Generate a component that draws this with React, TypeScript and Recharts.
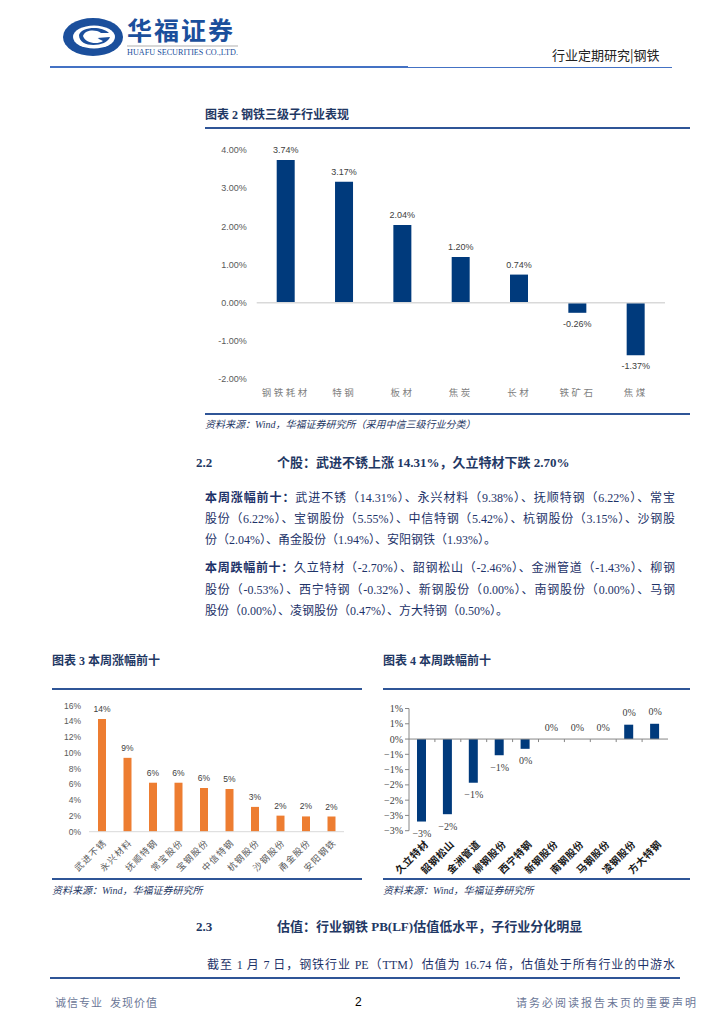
import React from 'react';
import { BarChart, ComposedChart, Bar, Line as RLine, XAxis, YAxis, ReferenceLine, LabelList } from 'recharts';

// ---------- data ----------
const subIndustries = ['钢铁耗材', '特钢', '板材', '焦炭', '长材', '铁矿石', '焦煤'];
const subIndustryReturns = [3.74, 3.17, 2.04, 1.2, 0.74, -0.26, -1.37];
const subIndustryTicks = [-2, -1, 0, 1, 2, 3, 4];

const gainerNames = ['武进不锈', '永兴材料', '抚顺特钢', '常宝股份', '宝钢股份', '中信特钢', '杭钢股份', '沙钢股份', '甬金股份', '安阳钢铁'];
const gainerValues = [14.31, 9.38, 6.22, 6.22, 5.55, 5.42, 3.15, 2.04, 1.94, 1.93];
const gainerTicks = [0, 2, 4, 6, 8, 10, 12, 14, 16];

const loserNames = ['久立特材', '韶钢松山', '金洲管道', '柳钢股份', '西宁特钢', '新钢股份', '南钢股份', '马钢股份', '凌钢股份', '方大特钢'];
const loserValues = [-2.7, -2.46, -1.43, -0.53, -0.32, 0, 0, 0, 0.47, 0.5];
const loserTicks = [-3, -2.5, -2, -1.5, -1, -0.5, 0, 0.5, 1];

const chart2Data = subIndustries.map((name, i) => ({ name, value: subIndustryReturns[i] }));
const chart3Data = gainerNames.map((name, i) => ({ name, value: gainerValues[i] }));
const chart4Data = loserNames.map((name, i) => ({ name, value: loserValues[i] }));

// ---------- styles ----------
const SERIF = "'Liberation Serif', 'Noto Sans CJK SC', serif";
const SANS = "'Liberation Sans', 'Noto Sans CJK SC', sans-serif";
const CJK = "'Noto Sans CJK SC', sans-serif";
const NAVY = '#1F3864';
const TEXT = '#1d3268';
const BAR_BLUE = '#003A7C';
const ORANGE = '#ED7D31';

const abs = (left: number, top: number, extra: React.CSSProperties = {}): React.CSSProperties => ({
  position: 'absolute',
  left,
  top,
  ...extra,
});

const excelRound = (v: number) => Math.sign(v) * Math.round(Math.abs(v));
const halfDownRound = (v: number) => Math.sign(v) * Math.round(Math.abs(v) - 0.001);
const fmtSigned = (n: number) => (n < 0 ? '−' + Math.abs(n) : String(Math.abs(n)));

// ---------- chart pieces ----------
const Chart2CatTick = (p: any) => (
  <text x={p.x} y={p.y + 12.5} textAnchor="middle" dominantBaseline="central" fontSize={9.5} fill="#7f7f7f" letterSpacing={2.5} fontFamily={CJK}>
    {p.payload.value}
  </text>
);

const makeRotTick = (dx: number, dy: number, color: string, size: number, spacing: number, weight: number) => (p: any) => (
  <g transform={`translate(${p.x + dx},${p.y + dy})`}>
    <text textAnchor="end" dominantBaseline="central" transform="rotate(-45)" fontSize={size} fill={color} letterSpacing={spacing} fontFamily={CJK} fontWeight={weight}>
      {p.payload.value}
    </text>
  </g>
);

const makeValueLabel = (fmt: (v: number) => string, fontFamily: string, size: number, up: number, down: number) => (p: any) => {
  const { x, y, value } = p;
  const width = p.width || 0;
  const height = p.height || 0;
  const top = Math.min(y, y + height);
  const bottom = Math.max(y, y + height);
  const cx = x + width / 2;
  const ly = value >= 0 ? top - up : bottom + down;
  return (
    <text x={cx} y={ly} textAnchor="middle" dominantBaseline="central" fontSize={size} fill="#404040" fontFamily={fontFamily}>
      {fmt(value)}
    </text>
  );
};

const ZeroAxisWithTicks = (p: any) => {
  const { x1, x2, y1 } = p;
  if (x1 == null) return null;
  const n = chart4Data.length;
  const step = (x2 - x1) / n;
  const ticks = [];
  for (let i = 1; i < n; i++) {
    ticks.push(<line key={i} x1={x1 + i * step} x2={x1 + i * step} y1={y1} y2={y1 + 3} stroke="#868686" strokeWidth={1} />);
  }
  return (
    <g>
      <line x1={x1} x2={x2} y1={y1} y2={y1} stroke="#868686" strokeWidth={1} />
      {ticks}
    </g>
  );
};

const Chart2 = () => (
  <BarChart width={500} height={280} data={chart2Data} margin={{ top: 15, right: 25, left: 0, bottom: 0 }}>
    <XAxis dataKey="name" axisLine={false} tickLine={false} tickSize={0} tickMargin={0} height={35.7} interval={0} tick={<Chart2CatTick />} />
    <YAxis
      width={66.7}
      domain={[-2, 4]}
      ticks={subIndustryTicks}
      interval={0}
      axisLine={false}
      tickLine={false}
      tickSize={0}
      tickMargin={10}
      tickFormatter={(v: number) => v.toFixed(2) + '%'}
      tick={{ fontSize: 9, fill: '#595959', fontFamily: SANS }}
    />
    <ReferenceLine y={0} stroke="#d9d9d9" strokeWidth={1.5} />
    <Bar dataKey="value" fill={BAR_BLUE} barSize={18} isAnimationActive={false}>
      <LabelList dataKey="value" content={makeValueLabel((v) => v.toFixed(2) + '%', SANS, 9, 10, 11)} />
    </Bar>
  </BarChart>
);

const Chart3 = () => (
  <BarChart width={320} height={190} data={chart3Data} margin={{ top: 10.7, right: 16, left: 0, bottom: 0 }}>
    <XAxis
      dataKey="name"
      axisLine={{ stroke: '#d9d9d9', strokeWidth: 1 }}
      tickLine={false}
      tickSize={0}
      tickMargin={0}
      height={53.3}
      interval={0}
      tick={makeRotTick(3, 9, '#595959', 9, 1.2, 400)}
    />
    <YAxis
      width={49}
      domain={[0, 16]}
      ticks={gainerTicks}
      interval={0}
      axisLine={false}
      tickLine={false}
      tickSize={0}
      tickMargin={8}
      tickFormatter={(v: number) => v + '%'}
      tick={{ fontSize: 8.5, fill: '#595959', fontFamily: SANS }}
    />
    <Bar dataKey="value" fill={ORANGE} barSize={8} isAnimationActive={false}>
      <LabelList dataKey="value" content={makeValueLabel((v) => Math.round(v) + '%', SANS, 8.5, 10, 10)} />
    </Bar>
  </BarChart>
);

const Chart4 = () => (
  <ComposedChart width={320} height={190} data={chart4Data} margin={{ top: 13.5, right: 17, left: 0, bottom: 0 }}>
    <XAxis
      dataKey="name"
      axisLine={false}
      tickLine={false}
      tickSize={0}
      tickMargin={0}
      height={54.3}
      interval={0}
      tick={makeRotTick(4, 11, '#1a1a1a', 10, 0.5, 700)}
    />
    <YAxis
      width={44}
      domain={[-3, 1]}
      ticks={loserTicks}
      interval={0}
      axisLine={{ stroke: '#868686' }}
      tickLine={{ stroke: '#868686' }}
      tickSize={4}
      tickMargin={2}
      tickFormatter={(v: number) => fmtSigned(excelRound(v)) + '%'}
      tick={{ fontSize: 10, fill: '#404040', fontFamily: SERIF }}
    />
    <ReferenceLine y={0} shape={<ZeroAxisWithTicks />} />
    <Bar dataKey="value" fill={BAR_BLUE} barSize={9} isAnimationActive={false} />
    <RLine dataKey="value" stroke="none" dot={false} activeDot={false} isAnimationActive={false}>
      <LabelList
        dataKey="value"
        content={makeValueLabel((v) => {
          const r = halfDownRound(v);
          return fmtSigned(r === 0 ? 0 : r) + '%';
        }, SERIF, 10, 12, 12)}
      />
    </RLine>
  </ComposedChart>
);

// ---------- page pieces ----------
const Logo = () => (
  <svg width={190} height={56} style={abs(56, 10)}>
    <g transform="translate(37,27)">
      <ellipse cx={0} cy={0} rx={30} ry={19} fill="#1B4F9C" />
      <ellipse cx={1} cy={0} rx={21} ry={11.5} fill="#fff" />
      <path d="M -14 -2 C -12 -10, 8 -12, 16 -4 L 8 -4 C 2 -8, -8 -7, -10 -1 C -8 6, 4 8, 10 4 L 4 1 L 17 0 C 14 10, -14 12, -14 -2 Z" fill="#1B4F9C" />
      <path d="M -1 -3 L 6 1 L -1 5 L -6 1 Z" fill="#fff" />
    </g>
    <text x={71} y={30} fontSize={25} fontWeight={700} fill="#1B4F9C" fontFamily={CJK} letterSpacing={2}>华福证券</text>
    <line x1={71} x2={182} y1={36} y2={36} stroke="#b0b0b0" strokeWidth={1.2} />
    <text x={71} y={44.5} fontSize={8} fill="#1B4F9C" fontFamily={SERIF} textLength={111} lengthAdjust="spacingAndGlyphs">HUAFU SECURITIES CO.,LTD.</text>
  </svg>
);

const Line = ({ left, top, width, height, color }: { left: number; top: number; width: number; height: number; color: string }) => (
  <div style={abs(left, top, { width, height, background: color })} />
);

const TextLine = ({ top, children, justify = true, left = 205, width = 470 }: { top: number; children: React.ReactNode; justify?: boolean; left?: number; width?: number }) => (
  <div
    style={abs(left, top - 10, {
      width,
      height: 20,
      lineHeight: '20px',
      fontSize: 12,
      color: TEXT,
      fontFamily: SERIF,
      textAlign: justify ? 'justify' : 'left',
      textAlignLast: justify ? 'justify' : 'left',
      whiteSpace: 'normal',
    })}
  >
    {children}
  </div>
);

const Title = ({ left, top, children }: { left: number; top: number; children: React.ReactNode }) => (
  <div style={abs(left, top - 9, { fontSize: 12, lineHeight: '18px', fontWeight: 700, color: NAVY, fontFamily: SERIF, whiteSpace: 'nowrap' })}>{children}</div>
);

const Source = ({ left, top, children }: { left: number; top: number; children: React.ReactNode }) => (
  <div style={abs(left, top - 8, { fontSize: 10, lineHeight: '16px', fontStyle: 'italic', color: NAVY, fontFamily: SERIF, whiteSpace: 'nowrap' })}>{children}</div>
);

const Heading = ({ top, num, children }: { top: number; num: string; children: React.ReactNode }) => (
  <>
    <div style={abs(196, top - 10, { fontSize: 13, lineHeight: '20px', fontWeight: 700, color: NAVY, fontFamily: SERIF })}>{num}</div>
    <div style={abs(277, top - 10, { fontSize: 13, lineHeight: '20px', fontWeight: 700, color: NAVY, fontFamily: SERIF, whiteSpace: 'nowrap' })}>{children}</div>
  </>
);

const B = ({ children }: { children: React.ReactNode }) => <span style={{ fontWeight: 700 }}>{children}</span>;

export default function App() {
  return (
    <div style={{ position: 'absolute', left: 0, top: 0, width: 724, height: 1024, background: '#fff', overflow: 'hidden' }}>
      {/* header */}
      <Logo />
      <div style={abs(552, 46, { fontSize: 13, lineHeight: '18px', color: '#222', fontFamily: CJK, whiteSpace: 'nowrap' })}>行业定期研究|钢铁</div>
      <Line left={50} top={66} width={358} height={2.2} color="#4472C4" />
      <Line left={408} top={66.5} width={264} height={1.4} color="#4472C4" />

      {/* chart 2 */}
      <Title left={205} top={115}>图表 2 钢铁三级子行业表现</Title>
      <Line left={205} top={127} width={485} height={2} color="#2F5597" />
      <div style={abs(190, 135)}>
        <Chart2 />
      </div>
      <Line left={205} top={413} width={485} height={2} color="#2F5597" />
      <Source left={205} top={425}>资料来源：Wind，华福证券研究所（采用中信三级行业分类）</Source>

      {/* 2.2 */}
      <Heading top={463} num="2.2">个股：武进不锈上涨 14.31%，久立特材下跌 2.70%</Heading>
      <TextLine top={498}><B>本周涨幅前十：</B>武进不锈（14.31%）、永兴材料（9.38%）、抚顺特钢（6.22%）、常宝</TextLine>
      <TextLine top={519}>股份（6.22%）、宝钢股份（5.55%）、中信特钢（5.42%）、杭钢股份（3.15%）、沙钢股</TextLine>
      <TextLine top={540} justify={false}>份（2.04%）、甬金股份（1.94%）、安阳钢铁（1.93%）。</TextLine>
      <TextLine top={568}><B>本周跌幅前十：</B>久立特材（-2.70%）、韶钢松山（-2.46%）、金洲管道（-1.43%）、柳钢</TextLine>
      <TextLine top={589.5}>股份（-0.53%）、西宁特钢（-0.32%）、新钢股份（0.00%）、南钢股份（0.00%）、马钢</TextLine>
      <TextLine top={611} justify={false}>股份（0.00%）、凌钢股份（0.47%）、方大特钢（0.50%）。</TextLine>

      {/* chart 3 */}
      <Title left={52} top={661}>图表 3 本周涨幅前十</Title>
      <Line left={52} top={688} width={310} height={2} color="#2F5597" />
      <div style={abs(40, 695)}>
        <Chart3 />
      </div>
      <Line left={52} top={878} width={310} height={2} color="#2F5597" />
      <Source left={52} top={891}>资料来源：Wind，华福证券研究所</Source>

      {/* chart 4 */}
      <Title left={383} top={661}>图表 4 本周跌幅前十</Title>
      <Line left={383} top={688} width={307} height={2} color="#2F5597" />
      <div style={abs(365, 695)}>
        <Chart4 />
      </div>
      <Line left={383} top={878} width={307} height={2} color="#2F5597" />
      <Source left={383} top={891}>资料来源：Wind，华福证券研究所</Source>

      {/* 2.3 */}
      <Heading top={927} num="2.3">估值：行业钢铁 PB(LF)估值低水平，子行业分化明显</Heading>
      <TextLine top={965} left={207} width={468}>截至 1 月 7 日，钢铁行业 PE（TTM）估值为 16.74 倍，估值处于所有行业的中游水</TextLine>

      {/* footer */}
      <Line left={50} top={977} width={630} height={2} color="#2F5597" />
      <div style={abs(55, 994, { fontSize: 11, lineHeight: '16px', color: '#6b7797', fontFamily: CJK, letterSpacing: 1, whiteSpace: 'pre' })}>诚信专业  发现价值</div>
      <div style={abs(355, 994, { fontSize: 12, lineHeight: '16px', color: '#000', fontFamily: SANS })}>2</div>
      <div style={abs(516, 994, { fontSize: 11, lineHeight: '16px', color: '#6b7797', fontFamily: CJK, letterSpacing: 2, whiteSpace: 'nowrap' })}>请务必阅读报告末页的重要声明</div>
    </div>
  );
}
